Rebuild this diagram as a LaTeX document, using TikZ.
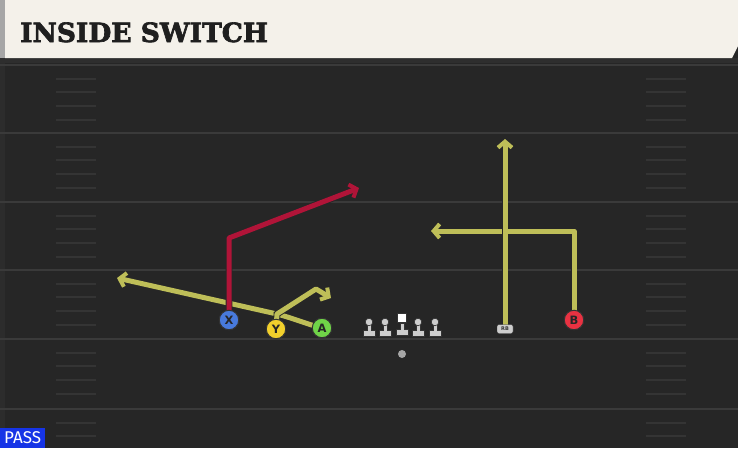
\documentclass[tikz,border=0pt]{standalone}
\usepackage{fontspec}
\usetikzlibrary{arrows.meta,backgrounds}
\newfontfamily\titlefont{DejaVu Serif}[BoldFeatures={FakeBold=2.5}]
\newfontfamily\lblfont{DejaVu Sans}
\newfontfamily\passfont{Fira Sans}
\definecolor{fieldc}{RGB}{38,38,38}
\definecolor{stripc}{RGB}{44,44,44}
\definecolor{yardc}{RGB}{58,58,58}
\definecolor{hashc}{RGB}{52,52,52}
\definecolor{beige}{RGB}{244,241,234}
\definecolor{routey}{RGB}{190,190,88}
\definecolor{router}{RGB}{176,20,56}
\definecolor{pblue}{RGB}{72,122,220}
\definecolor{pyellow}{RGB}{242,208,44}
\definecolor{pgreen}{RGB}{112,212,72}
\definecolor{pred}{RGB}{232,50,66}
\definecolor{linec}{RGB}{205,205,205}
\definecolor{passblue}{RGB}{22,52,230}
\tikzset{
  yardline/.style={draw=yardc,line width=2pt},
  hashline/.style={draw=hashc,line width=1.6pt},
  route/.style={line width=5pt,line join=round,
    -{Straight Barb[length=6pt,width=14pt,line width=4pt]},
    preaction={draw=black!85,line width=6.8pt,
      -{Straight Barb[length=6pt,width=14pt,line width=5.8pt]}}},
  player/.style={circle,draw=black!80,line width=1pt,minimum size=19.5pt,inner sep=0pt,
    font=\lblfont\bfseries\fontsize{11.5}{11.5}\selectfont,text=black!85},
}
\begin{document}
\begin{tikzpicture}[x=1pt,y=-1pt]
\useasboundingbox (0,0) rectangle (738,448);

% players
\node[player,fill=pblue] (X) at (229,320) {X};
\node[player,fill=pyellow] (Y) at (276,329) {Y};
\node[player,fill=pgreen] (A) at (322,328) {A};
\node[player,fill=pred] (B) at (574,320) {B};
\node[draw=black!80,fill=linec,rounded corners=2pt,minimum width=16pt,minimum height=9pt,inner sep=0pt,
  font=\lblfont\bfseries\fontsize{5}{5}\selectfont,text=black!80] (RB) at (505,329) {RB};
% linemen
\foreach \x/\n in {369/l1,385/l2,418/l4,435/l5} {
  \fill[linec,draw=black!80,line width=0.6pt] (\x-6,336) -- (\x+6,336) -- (\x+6,330) -- (\x+2,330) -- (\x+2,324) -- (\x-2,324) -- (\x-2,330) -- (\x-6,330) -- cycle;
  \node[circle,fill=linec,draw=black!80,line width=0.6pt,minimum size=7.5pt,inner sep=0pt] (\n) at (\x,322) {};
}
\fill[linec,draw=black!80,line width=0.6pt] (396,335) -- (408,335) -- (408,329) -- (404,329) -- (404,323) -- (400,323) -- (400,329) -- (396,329) -- cycle;
\node[fill=white,draw=black!80,line width=0.6pt,minimum size=9pt,inner sep=0pt] (C) at (402,318) {};
\node[circle,fill=gray!70,minimum size=8pt,inner sep=0pt] (QB) at (402,354) {};

% pass label
\node[fill=passblue,anchor=south west,minimum width=45pt,minimum height=20pt,inner sep=0pt,
  text=white,font=\passfont\fontsize{17}{17}\selectfont] (pass) at (0,448) {PASS};

\begin{scope}[on background layer]
\begin{scope}
\clip (0,0) rectangle (738,448);
\fill[fieldc] (0,0) rectangle (738,448);
\fill[black!82] (0,58) rectangle (738,63);
\fill[stripc] (0,63) rectangle (5,448);
\foreach \y in {65,133,202,270,339,409} {
  \draw[yardline] (0,\y) -- (738,\y);
  \foreach \d in {14,27,41,55} {
    \draw[hashline] (56,\y+\d) -- (96,\y+\d);
    \draw[hashline] (646,\y+\d) -- (686,\y+\d);
  }
}
% header
\fill[beige] (5,0) -- (738,0) -- (738,46) -- (732,58) -- (5,58) -- cycle;
\fill[gray!70] (0,0) rectangle (5,58);
\end{scope}
\coordinate (xa) at (229,238);
\coordinate (xb) at (359,188);
\coordinate (ya) at (277,314);
\coordinate (yb) at (316,289);
\coordinate (yc) at (331,298);
\coordinate (aa) at (277,314);
\coordinate (ab) at (117,278);
\coordinate (rba) at (505,139);
\coordinate (ba) at (574,231);
\coordinate (bb) at (431,231);
\draw[route,draw=routey] (A.center) to[out=165,in=-15] (aa) -- (ab);
\draw[route,draw=router] (X.center) -- (xa) -- (xb);
\draw[route,draw=routey] (Y.center) -- (ya) -- (yb) -- (yc);
\draw[route,draw=routey] (B.center) -- (ba) -- (bb);
\draw[route,draw=routey] (RB.center) -- (rba);
\end{scope}

\node[anchor=base west,inner sep=0pt,font=\titlefont\bfseries\fontsize{26.5}{26.5}\selectfont,text=black!88] (title) at (20,42) {INSIDE SWITCH};
\end{tikzpicture}
\end{document}
